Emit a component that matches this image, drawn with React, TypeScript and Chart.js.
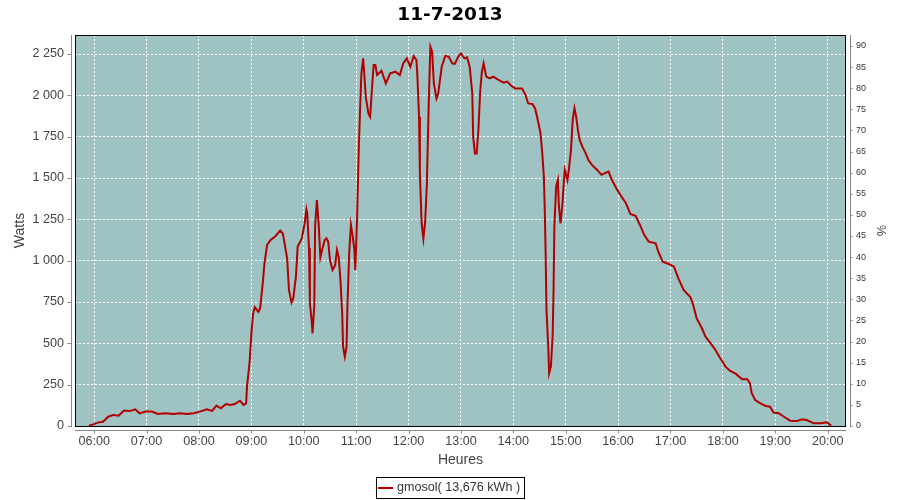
import React, { useEffect, useRef } from "react";
import { Chart, registerables } from "chart.js";

Chart.register(...registerables);

const TITLE = "11-7-2013";
const SERIES_LABEL = "gmosol( 13,676 kWh )";
const X_TITLE = "Heures";
const Y_TITLE = "Watts";
const Y2_TITLE = "%";

const times = [
  "05:54", "05:59", "06:05", "06:10", "06:16", "06:22", "06:28", "06:34", "06:41", "06:47",
  "06:52", "06:59", "07:06", "07:13", "07:21", "07:31", "07:38", "07:46", "07:54", "08:01",
  "08:09", "08:15", "08:20", "08:25", "08:31", "08:36", "08:41", "08:47", "08:51", "08:54",
  "08:55", "08:58", "09:00", "09:02", "09:04", "09:08", "09:10", "09:13", "09:15", "09:18",
  "09:22", "09:27", "09:33", "09:36", "09:41", "09:43", "09:46", "09:48", "09:51", "09:53",
  "09:56", "09:58", "10:01", "10:03", "10:04", "10:06", "10:07", "10:09", "10:10", "10:12",
  "10:13", "10:15", "10:17", "10:19", "10:21", "10:24", "10:26", "10:28", "10:30", "10:33",
  "10:36", "10:38", "10:40", "10:42", "10:44", "10:45", "10:47", "10:49", "10:50", "10:52",
  "10:54", "10:56", "10:58", "10:59", "11:01", "11:03", "11:05", "11:06", "11:08", "11:09",
  "11:11", "11:14", "11:16", "11:18", "11:20", "11:22", "11:24", "11:29", "11:34", "11:39",
  "11:45", "11:50", "11:54", "11:58", "12:02", "12:06", "12:09", "12:10", "12:12", "12:13",
  "12:15", "12:17", "12:19", "12:21", "12:23", "12:25", "12:27", "12:29", "12:32", "12:34",
  "12:38", "12:42", "12:46", "12:50", "12:53", "12:57", "13:00", "13:04", "13:07", "13:10",
  "13:13", "13:14", "13:16", "13:18", "13:20", "13:22", "13:24", "13:26", "13:29", "13:33",
  "13:37", "13:43", "13:49", "13:53", "13:58", "14:02", "14:10", "14:14", "14:17", "14:22",
  "14:25", "14:28", "14:31", "14:33", "14:35", "14:36", "14:37", "14:38", "14:40", "14:41",
  "14:43", "14:45", "14:46", "14:47", "14:49", "14:51", "14:52", "14:54", "14:56", "14:58",
  "14:59", "15:02", "15:04", "15:06", "15:08", "15:10", "15:12", "15:14", "15:16", "15:19",
  "15:22", "15:26", "15:30", "15:36", "15:41", "15:45", "15:49", "15:53", "15:59", "16:04",
  "16:09", "16:14", "16:20", "16:25", "16:30", "16:35", "16:43", "16:46", "16:51", "16:58",
  "17:04", "17:09", "17:15", "17:23", "17:26", "17:30", "17:36", "17:40", "17:46", "17:51",
  "17:57", "18:03", "18:08", "18:15", "18:22", "18:28", "18:31", "18:33", "18:37", "18:43",
  "18:49", "18:54", "18:58", "19:04", "19:10", "19:17", "19:25", "19:31", "19:36", "19:44",
  "19:52", "19:59", "20:04",
];

const watts = [
  2, 10, 22, 26, 56, 67, 62, 93, 91, 101,
  77, 87, 87, 73, 77, 73, 77, 73, 77, 87,
  101, 91, 123, 107, 133, 127, 133, 153, 127, 137,
  238, 389, 560, 681, 718, 690, 712, 863, 984, 1095,
  1125, 1145, 1182, 1165, 1014, 823, 746, 772, 903, 1085,
  1115, 1140, 1226, 1311, 1286, 1075, 742, 641, 560, 722,
  1206, 1367, 1226, 1020, 1065, 1125, 1135, 1115, 1004, 944,
  974, 1065, 1024, 883, 681, 480, 419, 480, 722, 1044,
  1216, 1150, 1064, 944, 1246, 1680, 1992, 2133, 2224, 2153,
  1992, 1891, 1870, 2032, 2183, 2183, 2123, 2149, 2072, 2133,
  2143, 2123, 2194, 2224, 2173, 2238, 2214, 2133, 1870, 1527,
  1225, 1134, 1235, 1467, 1931, 2294, 2264, 2072, 1981, 2011,
  2173, 2238, 2234, 2194, 2190, 2234, 2254, 2224, 2230, 2173,
  2011, 1749, 1648, 1648, 1790, 2022, 2143, 2194, 2113, 2103,
  2113, 2093, 2077, 2083, 2056, 2042, 2042, 2002, 1951, 1947,
  1921, 1851, 1775, 1660, 1508, 1306, 1044, 700, 480, 319,
  360, 541, 803, 1206, 1448, 1488, 1347, 1226, 1327, 1488,
  1549, 1488, 1569, 1669, 1851, 1922, 1871, 1790, 1730, 1690,
  1660, 1609, 1579, 1549, 1519, 1529, 1539, 1488, 1428, 1387,
  1347, 1283, 1271, 1216, 1155, 1115, 1105, 1054, 994, 980,
  964, 893, 823, 778, 732, 651, 591, 541, 500, 464,
  410, 359, 335, 315, 283, 283, 258, 198, 157, 137,
  121, 117, 81, 77, 56, 32, 30, 40, 36, 16,
  16, 22, 2,
];

const hourTicks = [
  "06:00", "07:00", "08:00", "09:00", "10:00", "11:00", "12:00", "13:00",
  "14:00", "15:00", "16:00", "17:00", "18:00", "19:00", "20:00",
];
const wattTicks = [0, 250, 500, 750, 1000, 1250, 1500, 1750, 2000, 2250];
const wattTickLabels = ["0", "250", "500", "750", "1 000", "1 250", "1 500", "1 750", "2 000", "2 250"];
const percentTicks = [0, 5, 10, 15, 20, 25, 30, 35, 40, 45, 50, 55, 60, 65, 70, 75, 80, 85, 90];

const toMin = (s: string) => {
  const [h, m] = s.split(":").map(Number);
  return h * 60 + m;
};

const LINE_COLOR = "#b20000";
const PLOT_BG = "#9ec3c2";
const AXIS_GRAY = "#888888";
const TEXT_GRAY = "#444444";
const SANS = "'Liberation Sans', Arial, sans-serif";
const NARROW = "'Liberation Sans Narrow', 'Liberation Sans', sans-serif";

const framePlugin = {
  id: "frame",
  beforeDraw(chart: any) {
    const { ctx, chartArea: a } = chart;
    ctx.save();
    ctx.fillStyle = PLOT_BG;
    ctx.fillRect(a.left, a.top, a.right - a.left, a.bottom - a.top);
    ctx.restore();
  },
  beforeDatasetsDraw(chart: any) {
    const { ctx, chartArea: a } = chart;
    ctx.save();
    ctx.strokeStyle = "#000";
    ctx.lineWidth = 1;
    ctx.strokeRect(Math.round(a.left) + 0.5, Math.round(a.top) + 0.5, Math.round(a.right - a.left) - 1, Math.round(a.bottom - a.top));
    ctx.restore();
  },
  afterDraw(chart: any) {
    const { ctx, chartArea: a, scales } = chart;
    ctx.save();
    ctx.strokeStyle = AXIS_GRAY;
    ctx.lineWidth = 1;
    ctx.beginPath();
    // left axis
    const lx = Math.round(a.left) - 4 + 0.5;
    ctx.moveTo(lx, a.top);
    ctx.lineTo(lx, a.bottom + 1);
    scales.y.ticks.forEach((t: any) => {
      const py = Math.round(scales.y.getPixelForValue(t.value)) + 0.5;
      ctx.moveTo(lx - 4, py);
      ctx.lineTo(lx, py);
    });
    // bottom axis
    const by = Math.round(a.bottom) + 4 + 0.5;
    ctx.moveTo(a.left, by);
    ctx.lineTo(a.right, by);
    scales.x.ticks.forEach((t: any) => {
      const px = Math.round(scales.x.getPixelForValue(t.value)) + 0.5;
      ctx.moveTo(px, by);
      ctx.lineTo(px, by + 3);
    });
    // right axis
    const rx = Math.round(a.right) + 4 + 0.5;
    ctx.moveTo(rx, a.top);
    ctx.lineTo(rx, a.bottom + 1);
    scales.y1.ticks.forEach((t: any) => {
      const py = Math.round(scales.y1.getPixelForValue(t.value)) + 0.5;
      ctx.moveTo(rx, py);
      ctx.lineTo(rx + 2, py);
    });
    ctx.stroke();

    // legend
    ctx.font = `12.6px ${SANS}`;
    const tw = ctx.measureText(SERIES_LABEL).width;
    const boxW = 2 + 15 + 4 + tw + 4;
    const bx = Math.round(chart.width / 2 - boxW / 2);
    const byTop = 477;
    const boxH = 21;
    ctx.strokeStyle = "#000";
    ctx.strokeRect(bx + 0.5, byTop + 0.5, Math.round(boxW), boxH);
    ctx.strokeStyle = LINE_COLOR;
    ctx.lineWidth = 2;
    ctx.beginPath();
    ctx.moveTo(bx + 2, byTop + 11);
    ctx.lineTo(bx + 17, byTop + 11);
    ctx.stroke();
    ctx.fillStyle = "#333";
    ctx.textBaseline = "middle";
    ctx.textAlign = "left";
    ctx.fillText(SERIES_LABEL, bx + 21, byTop + 11);
    ctx.restore();
  },
};

export default function App() {
  const ref = useRef<HTMLCanvasElement | null>(null);

  useEffect(() => {
    if (!ref.current) return;
    const data = times.map((t, i) => ({ x: toMin(t), y: watts[i] }));
    const chart = new Chart(ref.current, {
      type: "line",
      data: {
        datasets: [
          {
            label: SERIES_LABEL,
            data,
            borderColor: LINE_COLOR,
            backgroundColor: LINE_COLOR,
            borderWidth: 2,
            pointRadius: 0,
            tension: 0,
            fill: false,
            yAxisID: "y",
          },
        ],
      },
      options: {
        responsive: false,
        animation: false,
        devicePixelRatio: 1,
        layout: { padding: 0 },
        plugins: {
          legend: { display: false },
          tooltip: { enabled: false },
          title: {
            display: true,
            text: TITLE,
            color: "#000",
            font: { family: "'DejaVu Sans', sans-serif", size: 18.5, weight: "bold", lineHeight: 1.2 },
            padding: { top: 4, bottom: 8.8 },
          },
        },
        scales: {
          x: {
            type: "linear",
            min: 338,
            max: 1221,
            afterFit: (s: any) => {
              s.height = 74;
            },
            afterBuildTicks: (s: any) => {
              s.ticks = hourTicks.map((h) => ({ value: toMin(h) }));
            },
            ticks: {
              autoSkip: false,
              maxRotation: 0,
              padding: 8,
              color: TEXT_GRAY,
              font: { family: SANS, size: 12.6 },
              callback: (_v: any, i: number) => hourTicks[i],
            },
            grid: { color: "#ffffff", lineWidth: 1, drawTicks: false },
            border: { display: false, dash: [2, 2] },
            title: {
              display: true,
              text: X_TITLE,
              color: TEXT_GRAY,
              font: { family: SANS, size: 14, lineHeight: 1.2 },
              padding: { top: 0, bottom: 31.6 },
            },
          },
          y: {
            type: "linear",
            position: "left",
            min: 0,
            max: 2365,
            afterFit: (s: any) => {
              s.width = 75;
            },
            afterBuildTicks: (s: any) => {
              s.ticks = wattTicks.map((v) => ({ value: v }));
            },
            ticks: {
              padding: 11,
              color: TEXT_GRAY,
              font: { family: SANS, size: 12.6 },
              callback: (_v: any, i: number) => wattTickLabels[i],
            },
            grid: { color: "#ffffff", lineWidth: 1, drawTicks: false },
            border: { display: false, dash: [2, 2] },
            title: {
              display: true,
              text: Y_TITLE,
              color: TEXT_GRAY,
              font: { family: SANS, size: 14, lineHeight: 1.2 },
              padding: { top: 12, bottom: 0 },
            },
          },
          y1: {
            type: "linear",
            position: "right",
            min: 0,
            max: 92.6,
            afterFit: (s: any) => {
              s.width = 54;
            },
            afterBuildTicks: (s: any) => {
              s.ticks = percentTicks.map((v) => ({ value: v }));
            },
            ticks: {
              padding: 10,
              color: "#333",
              font: { family: NARROW, size: 9 },
              callback: (_v: any, i: number) => String(percentTicks[i]),
            },
            grid: { display: false, drawTicks: false },
            border: { display: false },
            title: {
              display: true,
              text: Y2_TITLE,
              color: TEXT_GRAY,
              font: { family: SANS, size: 12.6, lineHeight: 1.2 },
              padding: { top: 12.4, bottom: 0 },
            },
          },
        },
      },
      plugins: [framePlugin],
    } as any);
    return () => chart.destroy();
  }, []);

  return (
    <div style={{ position: "absolute", left: 0, top: 0, width: 900, height: 500, background: "#fff" }}>
      <canvas ref={ref} width={900} height={500} style={{ display: "block" }} />
    </div>
  );
}
